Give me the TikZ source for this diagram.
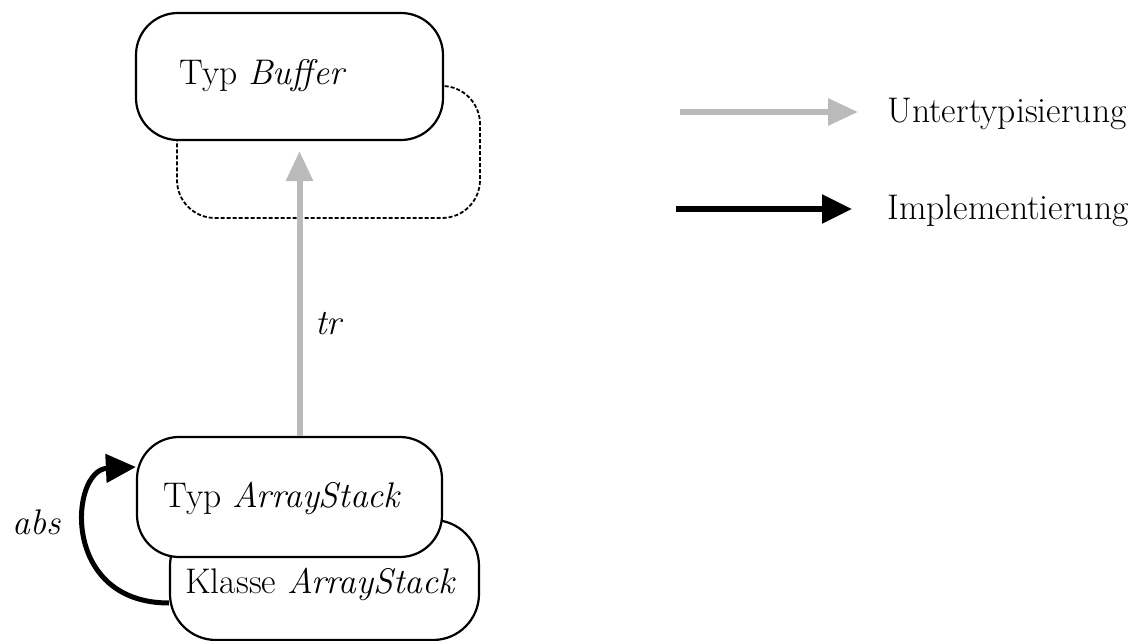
\documentclass[tikz,border=0pt]{standalone}
\usepackage{tikz}
\usetikzlibrary{arrows.meta}

\begin{document}
\begin{tikzpicture}[x=0.5pt,y=-0.5pt,
		font=\fontsize{17.8}{21}\selectfont,
		box/.style={draw,line width=1.1pt,rounded corners=21pt,fill=white,inner sep=0pt},
		ghost/.style={draw,line width=0.9pt,dash pattern=on 2pt off 1pt,rounded corners=19pt,inner sep=0pt},
		lbl/.style={inner sep=0pt,anchor=base west},
		subtype/.style={draw=black!27,line width=3pt,-{Triangle[length=15pt,width=13pt]}},
		impl/.style={draw=black,line width=2.7pt,-{Triangle[length=15pt,width=14pt]}}]
			
			\useasboundingbox (0,0) rectangle (1146,641);
			
			% types and class
			\node[ghost,minimum width=151.5pt,minimum height=66pt] 	(bufshadow) at (328.5,152) {};
			\node[box,minimum width=153.5pt,minimum height=63.5pt] 	(buffer) at (289.5,76.5) {};
			\node[box,minimum width=154.5pt,minimum height=60pt,rounded corners=23pt] 	(klasse) at (324.5,580) {};
			\node[box,minimum width=152.5pt,minimum height=60pt] 	(typstack) at (289.5,497) {};
			
			\node[lbl] (bufferlbl) at (179,85) {Typ \textit{Buffer}};
			\node[lbl] (typstacklbl) at (163,508) {Typ \textit{ArrayStack}};
			\node[lbl] (klasselbl) at (185,593) {Klasse \textit{ArrayStack}};
			
			% relations
			\draw[subtype,shorten >=5pt] ([xshift=5pt]typstack.north) -- ([xshift=5pt]typstack.north |- buffer.south);
			\node[lbl] (tr) at (315,335) {\textit{tr}};
			
			\draw[impl,line width=2.5pt] ([yshift=-11.5pt]klasse.west) .. controls (60,603) and (70,470) .. ([yshift=15pt]typstack.west);
			\node[lbl] (abs) at (12,534) {\textit{abs}};
			
			% legend
			\node[lbl] (untertyp) at (887,123) {Untertypisierung};
			\node[lbl] (implem) at (887,220) {Implementierung};
			\coordinate (lsub) at (680,112);
			\coordinate (limpl) at (676,209);
			\draw[subtype,shorten >=14.5pt] (lsub) -- (lsub -| untertyp.west);
			\draw[impl,shorten >=17.5pt] (limpl) -- (limpl -| implem.west);
		\end{tikzpicture}
\end{document}
